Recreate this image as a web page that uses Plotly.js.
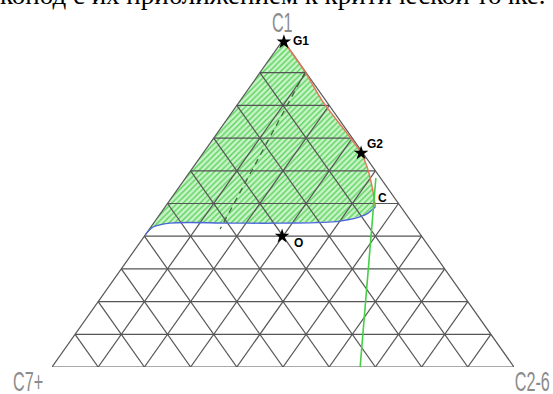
<!DOCTYPE html>
<html>
<head>
<meta charset="utf-8">
<script src="https://cdn.plot.ly/plotly-3.0.1.min.js"></script>
<style>
  html, body { margin: 0; padding: 0; background: #fff; }
  #chart { width: 553px; height: 394px; }
</style>
</head>
<body>
<div id="chart"></div>
<script>
// Compositions are mole fractions: C1 (top), C2-6 (bottom right), C7+ = 1 - C1 - C2-6 (bottom left)

// Bubble-point line (blue), from the C7+ side to the critical point
const bubbleC1  = [0.404, 0.428, 0.440, 0.440, 0.440, 0.446, 0.465, 0.490];
const bubbleC26 = [0.000, 0.005, 0.035, 0.165, 0.274, 0.400, 0.445, 0.455];

// Dew-point line (red), from G1 down to the critical point
const dewC1  = [0.994, 0.902, 0.810, 0.716, 0.654, 0.612, 0.550, 0.490];
const dewC26 = [0.005, 0.097, 0.182, 0.280, 0.342, 0.376, 0.418, 0.455];

// Tie line (dashed)
const tieC1  = [0.902, 0.422];
const tieC26 = [0.097, 0.153];

// Green line through the critical region
const greenC1  = [0.578, 0.000];
const greenC26 = [0.412, 0.667];

// Named compositions
const pointNames = ['G1', 'G2', 'C', 'O'];
const pointC1    = [0.994, 0.654, 0.490, 0.400];
const pointC26   = [0.005, 0.342, 0.455, 0.298];
const starred    = [true, true, false, true];

const vertexLabels = ['C1', 'C7+', 'C2-6'];
const gridStep = 0.1;

// ternary -> plane
function tx(c1, c26) { return c26 + c1 / 2; }
function ty(c1) { return c1; }
function mapX(a1, a26) { return a1.map((v, i) => tx(v, a26[i])); }
function mapY(a1) { return a1.map(ty); }

// grid lines for all three components
const gx = [], gy = [];
function seg(c1a, c26a, c1b, c26b) {
  gx.push(tx(c1a, c26a), tx(c1b, c26b), null);
  gy.push(ty(c1a), ty(c1b), null);
}
for (let k = 1; k < Math.round(1 / gridStep); k++) {
  const f = k * gridStep;
  seg(f, 0, f, 1 - f);          // constant C1
  seg(0, f, 1 - f, f);          // constant C2-6
  seg(0, 1 - f, 1 - f, 0);      // constant C7+
}
seg(1, 0, 0, 0); seg(0, 0, 0, 1); seg(0, 1, 1, 0);

// two-phase region: left edge from the top down to the bubble line, along it to C, back up the dew line
const regC1  = [1].concat(bubbleC1, dewC1.slice().reverse().slice(1), [1]);
const regC26 = [0].concat(bubbleC26, dewC26.slice().reverse().slice(1), [0]);

const traces = [
  {
    x: mapX(regC1, regC26), y: mapY(regC1),
    mode: 'lines', line: { width: 0 }, fill: 'toself',
    fillcolor: '#c6f3c6',
    fillpattern: { shape: '/', fgcolor: '#5ad35a', bgcolor: '#c9f4c9', size: 4, solidity: 0.35 },
    hoverinfo: 'skip'
  },
  {
    x: gx, y: gy, mode: 'lines',
    line: { color: '#555555', width: 1.2 }, hoverinfo: 'skip'
  },
  {
    x: mapX(bubbleC1, bubbleC26), y: mapY(bubbleC1), mode: 'lines',
    line: { color: '#4a68d8', width: 1.3, shape: 'spline' }
  },
  {
    x: mapX(dewC1, dewC26), y: mapY(dewC1), mode: 'lines',
    line: { color: '#e2785c', width: 1.5, shape: 'spline' }
  },
  {
    x: mapX(tieC1, tieC26), y: mapY(tieC1), mode: 'lines',
    line: { color: '#3d6b3d', width: 1.3, dash: '6px,5px' }
  },
  {
    x: mapX(greenC1, greenC26), y: mapY(greenC1), mode: 'lines',
    line: { color: '#45d045', width: 1.6 }
  },
  {
    x: mapX(pointC1.filter((_, i) => starred[i]), pointC26.filter((_, i) => starred[i])),
    y: mapY(pointC1.filter((_, i) => starred[i])),
    mode: 'markers', cliponaxis: false,
    marker: { symbol: 'star', size: 11, color: '#000' }
  }
];

const labelShift = { G1: [17, 1], G2: [14, 9], C: [7, 9], O: [16, -7] };
const annotations = pointNames.map((n, i) => ({
  x: tx(pointC1[i], pointC26[i]), y: ty(pointC1[i]),
  xref: 'x', yref: 'y', text: '<b>' + n + '</b>', showarrow: false,
  xshift: labelShift[n][0], yshift: labelShift[n][1],
  font: { family: 'Liberation Sans, Arial, sans-serif', size: 12, color: '#000' }
}));

const cornerFont = { family: 'Liberation Sans, Arial, sans-serif', size: 27, color: '#8c8c8c' };
annotations.push(
  { x: tx(1, 0), y: ty(1), xref: 'x', yref: 'y', text: vertexLabels[0], showarrow: false, yshift: 17, xshift: -1, font: cornerFont },
  { x: tx(0, 0), y: ty(0), xref: 'x', yref: 'y', text: vertexLabels[1], showarrow: false, xshift: -24, yshift: -15, font: cornerFont },
  { x: tx(0, 1), y: ty(0), xref: 'x', yref: 'y', text: vertexLabels[2], showarrow: false, xshift: 18, yshift: -15, font: cornerFont },
  {
    xref: 'paper', yref: 'paper', x: -0.117, y: 1.086, xanchor: 'left', yanchor: 'bottom',
    text: 'конод с их приближением к критической точке.', showarrow: false,
    font: { family: 'Liberation Serif, Times New Roman, serif', size: 27, color: '#000' }
  }
);

const layout = {
  width: 553, height: 394,
  margin: { l: 52, r: 39, t: 40, b: 27 },
  paper_bgcolor: '#ffffff', plot_bgcolor: '#ffffff',
  showlegend: false,
  xaxis: { range: [0, 1], visible: false, fixedrange: true },
  yaxis: { range: [0, 1], visible: false, fixedrange: true },
  annotations: annotations
};

Plotly.newPlot('chart', traces, layout, { displayModeBar: false, staticPlot: true }).then(() => {
  // vertex labels use a narrow, drafting-style face: compress them horizontally about their centre
  document.querySelectorAll('.annotation-text').forEach(el => {
    if (vertexLabels.indexOf(el.textContent) < 0) return;
    const b = el.getBBox();
    const cx = b.x + b.width / 2;
    const prev = el.getAttribute('transform') || '';
    el.setAttribute('transform', prev + ' translate(' + cx + ',0) scale(0.6,1) translate(' + (-cx) + ',0)');
  });
});
</script>
</body>
</html>
